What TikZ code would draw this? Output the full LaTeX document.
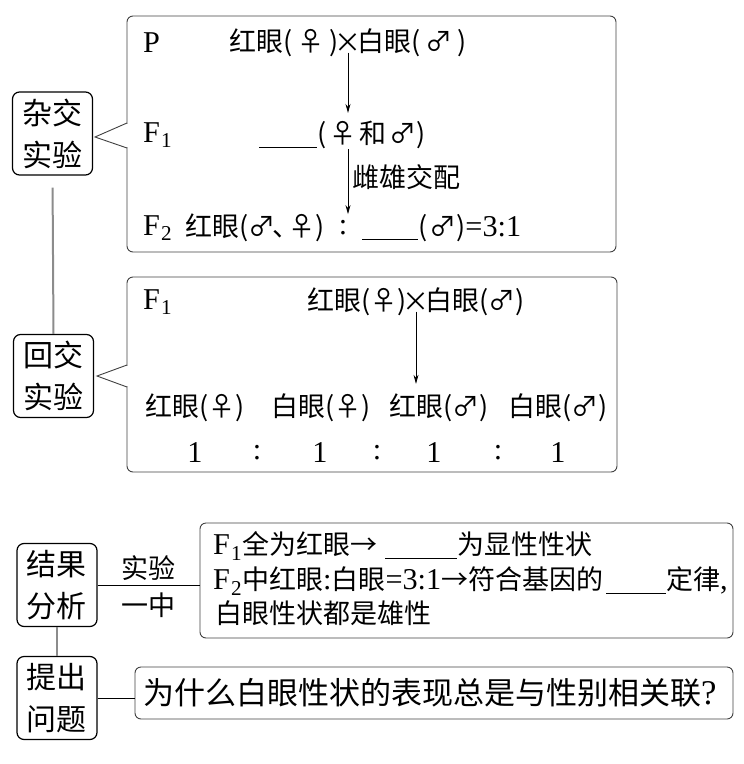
\documentclass[tikz,border=0pt]{standalone}
\usepackage{fontspec}
\setmainfont{Noto Sans CJK SC}
\newfontfamily\lat[Scale=1.12]{Liberation Serif}
\usetikzlibrary{arrows.meta}
\newcommand\blank[1]{\rule[-4pt]{#1pt}{1pt}}
\newcommand\fem{♀}
\newcommand\mal{♂}
\newcommand\gen[1]{{\lat F\kern1pt\textsubscript{#1}}}
\tikzset{
  tag/.style={draw, line width=1.2pt, rounded corners=7pt, align=center, inner sep=2pt,
    minimum width=80pt, minimum height=83pt, font=\fontsize{30}{42}\selectfont},
  bubble/.style={draw=black!75, line width=0.9pt, rounded corners=6pt, inner sep=0pt},
  edge/.style={draw=black!75, line width=0.9pt},
  txt/.style={inner sep=0pt, font=\fontsize{27}{32}\selectfont},
  link/.style={line width=1pt},
  fade/.style={draw=black!45, line width=2pt},
  down/.style={-{Stealth[length=9pt,width=5pt]}, line width=0.8pt},
}
\begin{document}
\begin{tikzpicture}[x=1pt,y=-1pt]
\useasboundingbox (0,0) rectangle (744,764);

% side tags
\node[tag] (hyb) at (52.5,133.5) {杂交\\实验};
\node[tag] (back) at (53.5,376) {回交\\实验};
\node[tag] (res) at (57,585) {结果\\分析};
\node[tag] (ask) at (57,698) {提出\\问题};
\draw[fade, shorten <=12pt] (hyb.south) -- (back.north);
\draw[fade, line width=1.5pt] (res.south) -- (ask.north);

% boxes
\node[bubble, minimum width=489pt, minimum height=236pt] (cross) at (371.5,134) {};
\node[bubble, minimum width=490pt, minimum height=195pt] (test) at (372,374.5) {};
\node[bubble, minimum width=533pt, minimum height=115pt] (sum) at (466.5,580.5) {};
\node[bubble, minimum width=598pt, minimum height=52pt] (quest) at (434,693) {};
\fill[white] (125.5,124) rectangle (128.5,147);
\draw[edge] (127,123) -- (95,137) -- (127,148);
\fill[white] (125.5,366) rectangle (128.5,386);
\draw[edge] (127,365) -- (97,376) -- (127,387);

% cross
\node[txt, anchor=west] (p) at (143,43) {\lat P};
\node[txt, anchor=east] (pf) at (339,43) {红眼(\hspace{5pt}\fem\hspace{5pt})};
\node[txt] (px) at (348,43) {×};
\node[txt, anchor=west] (pm) at (357,43) {白眼(\hspace{5pt}\mal\hspace{5pt})};
\node[txt, anchor=west] (g1) at (143,135) {\gen{1}};
\node[txt, anchor=west] (f1) at (259,135) {\blank{58}(\hspace{3pt}\fem\hspace{3pt}和\hspace{3pt}\mal)};
\node[txt, anchor=west] (mate) at (352,177) {雌雄交配};
\node[txt, anchor=west] (g2) at (143,228) {\gen{2}};
\node[txt, anchor=west] (f2a) at (185,228) {红眼(\mal\kern-3pt、\kern-11pt\fem)};
\node[txt] (f2c) at (343,228) {\lat :};
\node[txt, anchor=west] (f2b) at (362,228) {\blank{56}(\hspace{2pt}\mal){\lat =3:1}};
\draw[down, shorten >=8pt] (px.south) -- (px.south |- f1.north);
\draw[down] (px |- f1.south) -- (px |- f2b.north);

% test cross
\node[txt, anchor=west] (g1b) at (143,302) {\gen{1}};
\node[txt, anchor=east] (bf) at (407,302) {红眼(\fem)};
\node[txt] (bx) at (416,302) {×};
\node[txt, anchor=west] (bm) at (425,302) {白眼(\mal)};
\foreach \n/\x/\t in {o1/195/红眼(\fem), o2/321/白眼(\fem), o3/439/红眼(\mal), o4/558/白眼(\mal)}
  \node[txt] (\n) at (\x,408) {\t};
\foreach \x/\t [count=\i] in {195/1, 257/:, 320/1, 377/:, 434/1, 498/:, 558/1}
  \node[txt] (r\i) at (\x,453) {\lat \t};
\draw[down, shorten >=10pt] (bx.south) -- (bx.south |- o3.north);

% summary
\draw[link] (res.east) -- node[txt, above, inner sep=4pt] (exp) {实验}
  node[txt, below, inner sep=7pt] (one) {一中} (res.east -| sum.west);
\node[txt, anchor=west] (c1) at (213,546) {\gen{1}全为红眼→\hspace{8pt}\blank{72}为显性性状};
\node[txt, anchor=west] (c2) at (213,581) {\gen{2}中红眼{\lat :}白眼{\lat =3:1}→符合基因的\hspace{3pt}\blank{60}定律{\lat ,}};
\node[txt, anchor=west] (c3) at (215,613) {白眼性状都是雄性};

% question
\draw[link] (ask.east) -- (ask.east -| quest.west);
\node[txt, font=\fontsize{31}{36}\selectfont, anchor=west] (q) at (143,693) {为什么白眼性状的表现总是与性别相关联{\lat ?}};
\end{tikzpicture}
\end{document}
